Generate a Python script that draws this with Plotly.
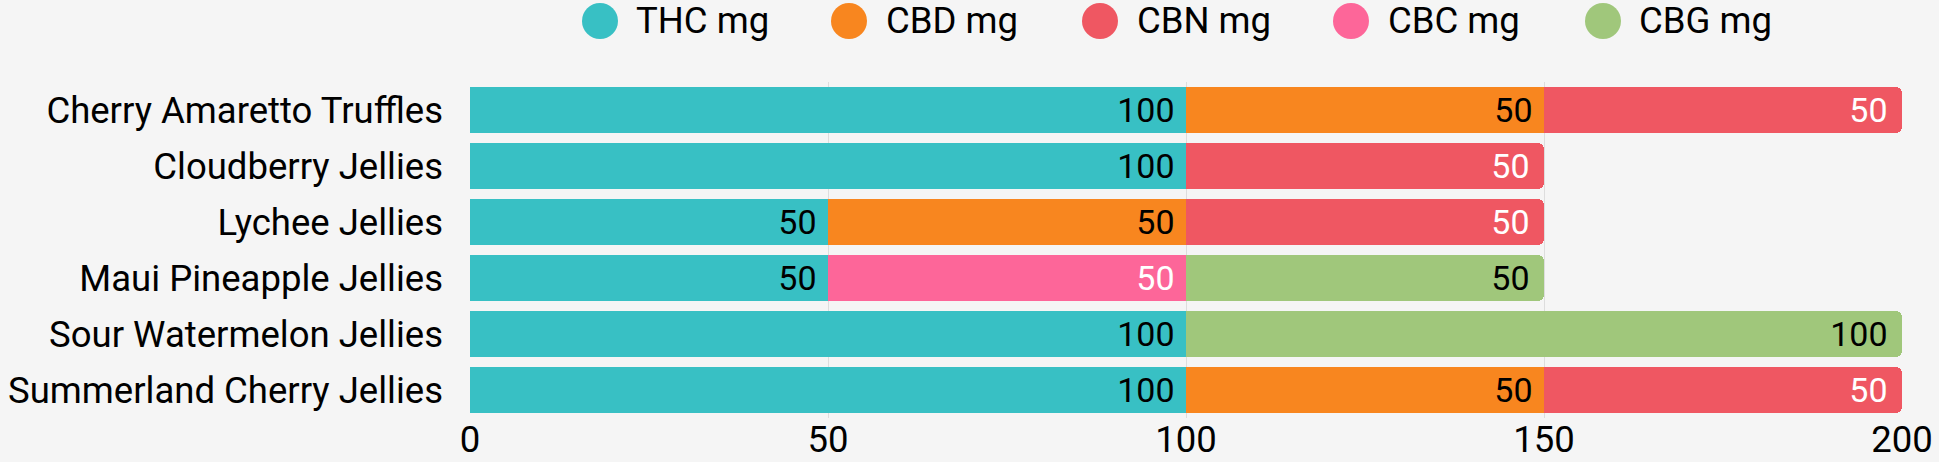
import plotly.graph_objects as go

categories = ["Cherry Amaretto Truffles", "Cloudberry Jellies", "Lychee Jellies",
              "Maui Pineapple Jellies", "Sour Watermelon Jellies", "Summerland Cherry Jellies"]
series_names = ["THC mg", "CBD mg", "CBN mg", "CBC mg", "CBG mg"]
thc = [100, 100, 50, 50, 100, 100]
cbd = [50, None, 50, None, None, 50]
cbn = [50, 50, 50, None, None, 50]
cbc = [None, None, None, 50, None, None]
cbg = [None, None, None, 50, 100, None]
x_ticks = [0, 50, 100, 150, 200]

colors = ["#38c0c4", "#f8861f", "#ef5762", "#fd6699", "#a0c77b"]
text_colors = ["#000000", "#000000", "#ffffff", "#ffffff", "#000000"]
FONT = "Roboto"
FS = 36.5

fig = go.Figure()
for name, vals, col, tcol in zip(series_names, [thc, cbd, cbn, cbc, cbg], colors, text_colors):
    fig.add_trace(go.Bar(
        y=categories, x=vals, name=name, orientation="h",
        marker=dict(color=col, line=dict(width=0)),
        text=vals, texttemplate="%{x}\u00a0", textposition="inside",
        insidetextanchor="end", textangle=0,
        insidetextfont=dict(color=tcol, size=37.5, family=FONT),
        showlegend=False, hoverinfo="skip",
    ))

W, H = 1939, 462
L, R, T, B = 470, 37, 82, 44
pw, ph = W - L - R, H - T - B

circle_x = [600, 849, 1100, 1351, 1603]
text_x = [634, 884, 1135, 1386, 1637]
cy = 21
for name, col, cx, tx in zip(series_names, colors, circle_x, text_x):
    fig.add_shape(type="circle", xref="paper", yref="paper",
                  xsizemode="pixel", ysizemode="pixel",
                  xanchor=(cx - L) / pw, yanchor=(H - B - cy) / ph,
                  x0=-18, x1=18, y0=-18, y1=18,
                  fillcolor=col, line=dict(width=0))
    fig.add_annotation(text=name, xref="paper", yref="paper",
                       x=(tx - L) / pw, y=(H - B - cy) / ph,
                       xanchor="left", yanchor="middle", showarrow=False,
                       font=dict(size=FS, family=FONT, color="#000000"))

fig.update_layout(
    width=W, height=H, autosize=False,
    margin=dict(l=L, r=R, t=T, b=B, pad=0, autoexpand=False),
    barmode="stack", bargap=0.18, barcornerradius=6,
    paper_bgcolor="#f5f5f5", plot_bgcolor="#f5f5f5",
    font=dict(family=FONT, size=FS, color="#000000"),
)
fig.update_xaxes(range=[0, 200], tickvals=x_ticks, showgrid=True, gridcolor="#dddddd",
                 gridwidth=1, zeroline=False, showline=False, ticks="", automargin=False,
                 tickfont=dict(size=FS, family=FONT, color="#000000"), ticklabelstandoff=-4)
fig.update_yaxes(autorange="reversed", showgrid=False, zeroline=False, showline=False,
                 ticks="", automargin=False,
                 tickfont=dict(size=FS, family=FONT, color="#000000"),
                 ticklabelstandoff=26)

fig.write_html("out.html", config={"responsive": False, "displayModeBar": False},
               post_script="document.body.style.margin='0';document.body.style.background='#f5f5f5';"
                           "document.body.style.overflow='hidden';")
